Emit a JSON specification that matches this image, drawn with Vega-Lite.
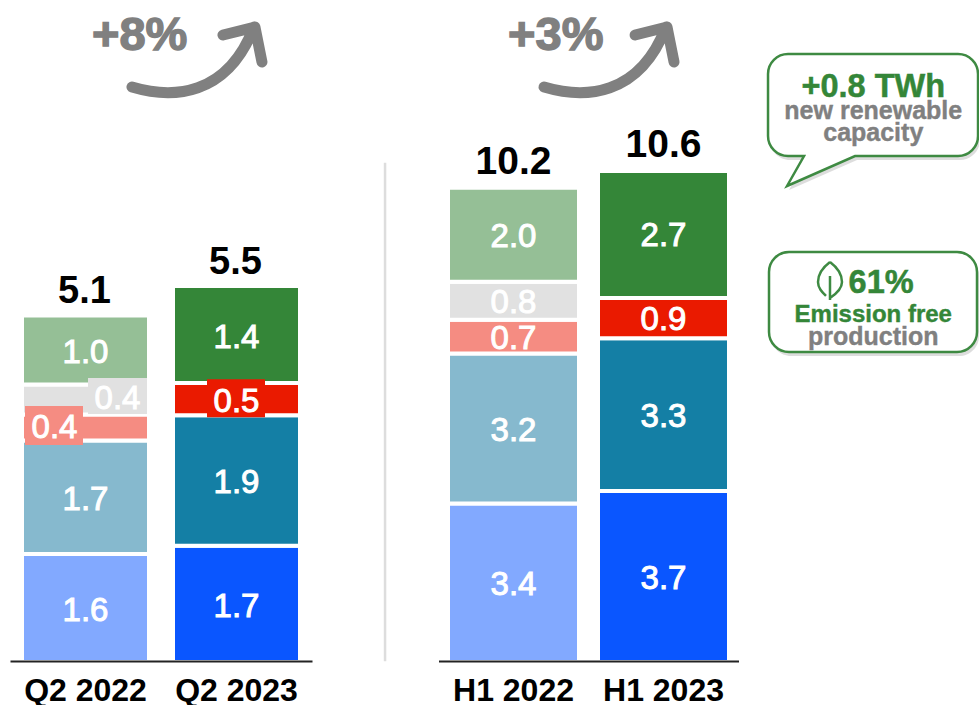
{"$schema":"https://vega.github.io/schema/vega-lite/v6.json","width":979,"height":705,"padding":0,"autosize":{"type":"none"},"background":"white","config":{"view":{"stroke":null},"font":"Liberation Sans"},
"datasets":{"left":[
{"period":"Q2 2022","series":"S1 2022","order":1,"value":1.58},
{"period":"Q2 2022","series":"S2 2022","order":2,"value":1.66},
{"period":"Q2 2022","series":"S3 2022","order":3,"value":0.38},
{"period":"Q2 2022","series":"S4 2022","order":4,"value":0.44},
{"period":"Q2 2022","series":"S5 2022","order":5,"value":1.01},
{"period":"Q2 2023","series":"S1 2023","order":1,"value":1.7},
{"period":"Q2 2023","series":"S2 2023","order":2,"value":1.91},
{"period":"Q2 2023","series":"S3 2023","order":3,"value":0.47},
{"period":"Q2 2023","series":"S5 2023","order":5,"value":1.42}],
"right":[
{"period":"H1 2022","series":"S1 2022","order":1,"value":3.42},
{"period":"H1 2022","series":"S2 2022","order":2,"value":3.24},
{"period":"H1 2022","series":"S3 2022","order":3,"value":0.73},
{"period":"H1 2022","series":"S4 2022","order":4,"value":0.82},
{"period":"H1 2022","series":"S5 2022","order":5,"value":2.03},
{"period":"H1 2023","series":"S1 2023","order":1,"value":3.69},
{"period":"H1 2023","series":"S2 2023","order":2,"value":3.3},
{"period":"H1 2023","series":"S3 2023","order":3,"value":0.87},
{"period":"H1 2023","series":"S5 2023","order":5,"value":2.74}],
"notes":[
{"role":"growth","text":"+8%","u":9.4,"v":7.09},
{"role":"growth","text":"+3%","u":51.9,"v":7.09},
{"role":"headline","text":"+0.8 TWh","u":89.2,"v":13.76},
{"role":"grey","text":"new renewable","u":89.2,"v":16.88},
{"role":"grey","text":"capacity","u":89.2,"v":20.0},
{"role":"headline","text":"61%","u":90.0,"v":41.56},
{"role":"green","text":"Emission free","u":89.2,"v":45.67},
{"role":"grey","text":"production","u":89.2,"v":48.94}],
"arrows":[{"name":"a","u":13.48,"v":12.34},{"name":"b","u":55.57,"v":12.34}],
"divider":[{"u":39.33,"v":23.1,"v2":93.8}],
"bubble":[{"u":78.45,"v":7.66}],
"box":[{"u":78.55,"v":35.74}],
"leaf":[{"u":84.78,"v":37.16}]},
"layer":[
{"encoding":{
 "x":{"field":"period","type":"nominal","sort":["Q2 2022","Q2 2023"],"scale":{"range":[10,312],"paddingInner":0,"paddingOuter":0},"axis":{"orient":"bottom","offset":-44,"title":null,"ticks":false,"grid":false,"domainColor":"#222222","domainWidth":2,"labelAngle":0,"labelFontSize":32,"labelFontWeight":"bold","labelColor":"black","labelPadding":14,"labelFont":"Liberation Sans","zindex":1}},
 "y":{"field":"value","type":"quantitative","stack":"zero","scale":{"domain":[0,5.5],"range":[662,286],"nice":false,"zero":false},"axis":null}},
 "data":{"name":"left"},
 "layer":[
 {"mark":{"type":"bar","width":127,"stroke":"white","strokeWidth":4},"encoding":{"color":{"field":"series","type":"nominal","legend":null,"scale":{"domain":["S1 2022","S2 2022","S3 2022","S4 2022","S5 2022","S1 2023","S2 2023","S3 2023","S5 2023"],"range":["#82A9FF","#86B9CE","#F58C82","#E1E1E1","#95BF96","#0A56FF","#147FA5","#EA1A00","#348638"]}},"order":{"field":"order"}}},
 {"mark":{"type":"point","filled":true,"size":4,"opacity":1},"encoding":{"y":{"field":"value","type":"quantitative","stack":"zero","bandPosition":0.5},"detail":{"field":"series"},"order":{"field":"order"},"color":{"field":"series","type":"nominal","legend":null},"shape":{"field":"series","type":"nominal","legend":null,"scale":{"domain":["S4 2022","S3 2022","S3 2023"],"range":["M2.5,-21.5H61.5V14.5H2.5Z","M-60.5,-21.5H-2.5V17.5H-60.5Z","M-29.5,-20H28.5V18H-29.5Z"]}},"opacity":{"condition":{"test":"datum.series==='S4 2022'||datum.series==='S3 2022'||datum.series==='S3 2023'","value":1},"value":0}}},
 {"mark":{"type":"text","color":"white","fontSize":33,"stroke":"white","strokeWidth":1,"dy":3},"encoding":{"y":{"field":"value","type":"quantitative","stack":"zero","bandPosition":0.5},"detail":{"field":"series"},"order":{"field":"order"},"text":{"field":"value","type":"quantitative","format":".1f"},"opacity":{"condition":{"test":"datum.series==='S4 2022'||datum.series==='S3 2022'","value":0},"value":1}}},
 {"mark":{"type":"text","color":"white","fontSize":33,"stroke":"white","strokeWidth":1,"dx":32,"dy":0},"encoding":{"y":{"field":"value","type":"quantitative","stack":"zero","bandPosition":0.5},"detail":{"field":"series"},"order":{"field":"order"},"text":{"field":"value","type":"quantitative","format":".1f"},"opacity":{"condition":{"test":"datum.series==='S4 2022'","value":1},"value":0}}},
 {"mark":{"type":"text","color":"white","fontSize":33,"stroke":"white","strokeWidth":1,"dx":-31,"dy":0},"encoding":{"y":{"field":"value","type":"quantitative","stack":"zero","bandPosition":0.5},"detail":{"field":"series"},"order":{"field":"order"},"text":{"field":"value","type":"quantitative","format":".1f"},"opacity":{"condition":{"test":"datum.series==='S3 2022'","value":1},"value":0}}},
 {"transform":[{"aggregate":[{"op":"sum","field":"value","as":"total"}],"groupby":["period"]}],"mark":{"type":"text","color":"black","fontSize":38,"fontWeight":"bold","baseline":"alphabetic","dy":-12,"dx":-1},"encoding":{"y":{"field":"total","type":"quantitative","stack":null},"text":{"field":"total","type":"quantitative","format":".1f"}}}
 ]},
{"encoding":{
 "x":{"field":"period","type":"nominal","sort":["H1 2022","H1 2023"],"scale":{"range":[438.5,738.5],"paddingInner":0,"paddingOuter":0},"axis":{"orient":"bottom","offset":-44,"title":null,"ticks":false,"grid":false,"domainColor":"#222222","domainWidth":2,"labelAngle":0,"labelFontSize":32,"labelFontWeight":"bold","labelColor":"black","labelPadding":14,"labelFont":"Liberation Sans","zindex":1}},
 "y":{"field":"value","type":"quantitative","stack":"zero","scale":{"domain":[0,10.6],"range":[662,171],"nice":false,"zero":false},"axis":null}},
 "data":{"name":"right"},
 "layer":[
 {"mark":{"type":"bar","width":131,"stroke":"white","strokeWidth":4},"encoding":{"color":{"field":"series","type":"nominal","legend":null},"order":{"field":"order"}}},
 {"mark":{"type":"text","color":"white","fontSize":33,"stroke":"white","strokeWidth":1,"dy":2},"encoding":{"y":{"field":"value","type":"quantitative","stack":"zero","bandPosition":0.5},"detail":{"field":"series"},"order":{"field":"order"},"text":{"field":"value","type":"quantitative","format":".1f"}}},
 {"transform":[{"aggregate":[{"op":"sum","field":"value","as":"total"}],"groupby":["period"]}],"mark":{"type":"text","color":"black","fontSize":39,"fontWeight":"bold","baseline":"alphabetic","dy":-14},"encoding":{"y":{"field":"total","type":"quantitative","stack":null},"text":{"field":"total","type":"quantitative","format":".1f"}}}
 ]},
{"encoding":{
 "x":{"field":"u","type":"quantitative","scale":{"domain":[0,100],"range":[0,979],"nice":false,"zero":false},"axis":null},
 "y":{"field":"v","type":"quantitative","scale":{"domain":[0,100],"range":[0,705],"nice":false,"zero":false},"axis":null}},
 "layer":[
 {"data":{"name":"divider"},"mark":{"type":"rule","color":"#DDDDDD","strokeWidth":2.5},"encoding":{"y2":{"field":"v2"}}},
 {"data":{"name":"arrows"},"mark":{"type":"point","filled":false,"size":4,"opacity":1,"color":"#808080","strokeWidth":11,"strokeCap":"round","strokeJoin":"round","shape":"M0,0C40,12 95,10 122,-60M91,-52L123,-60L130,-25"},"encoding":{}},
 {"data":{"name":"bubble"},"mark":{"type":"point","filled":true,"size":4,"opacity":0.25,"color":"#777777","xOffset":2,"yOffset":4,"shape":"M20,0H190A20,20 0 0 1 210,20V82A20,20 0 0 1 190,102H87L19,132L36,102H20A20,20 0 0 1 0,82V20A20,20 0 0 1 20,0Z"},"encoding":{}},
 {"data":{"name":"bubble"},"mark":{"type":"point","filled":true,"size":4,"opacity":1,"fill":"white","stroke":"#3E8A42","strokeWidth":2.5,"shape":"M20,0H190A20,20 0 0 1 210,20V82A20,20 0 0 1 190,102H87L19,132L36,102H20A20,20 0 0 1 0,82V20A20,20 0 0 1 20,0Z"},"encoding":{}},
 {"data":{"name":"box"},"mark":{"type":"point","filled":true,"size":4,"opacity":0.25,"color":"#777777","xOffset":2,"yOffset":4,"shape":"M20,0H188A20,20 0 0 1 208,20V80A20,20 0 0 1 188,100H20A20,20 0 0 1 0,80V20A20,20 0 0 1 20,0Z"},"encoding":{}},
 {"data":{"name":"box"},"mark":{"type":"point","filled":true,"size":4,"opacity":1,"fill":"white","stroke":"#3E8A42","strokeWidth":2.5,"shape":"M20,0H188A20,20 0 0 1 208,20V80A20,20 0 0 1 188,100H20A20,20 0 0 1 0,80V20A20,20 0 0 1 20,0Z"},"encoding":{}},
 {"data":{"name":"leaf"},"mark":{"type":"point","filled":false,"size":4,"opacity":1,"color":"#3E8A42","strokeWidth":2.5,"shape":"M0,0C-8,6 -12,12 -12,20C-12,26 -8,30 -4,34M0,0C8,6 12,12 12,20C12,26 6,32 0,36M0,14V38"},"encoding":{}},
 {"data":{"name":"notes"},"transform":[{"filter":"datum.role==='growth'"}],"mark":{"type":"text","align":"left","baseline":"alphabetic","fontSize":47,"fontWeight":"bold","color":"#808080","stroke":"#808080","strokeWidth":1.4},"encoding":{"text":{"field":"text"}}},
 {"data":{"name":"notes"},"transform":[{"filter":"datum.role==='headline'"}],"mark":{"type":"text","align":"center","baseline":"alphabetic","fontSize":32.5,"fontWeight":"bold","color":"#348638","stroke":"#348638","strokeWidth":0.5},"encoding":{"text":{"field":"text"}}},
 {"data":{"name":"notes"},"transform":[{"filter":"datum.role==='green'"}],"mark":{"type":"text","align":"center","baseline":"alphabetic","fontSize":24,"fontWeight":"bold","color":"#348638","stroke":"#348638","strokeWidth":0.4},"encoding":{"text":{"field":"text"}}},
 {"data":{"name":"notes"},"transform":[{"filter":"datum.role==='grey'"}],"mark":{"type":"text","align":"center","baseline":"alphabetic","fontSize":25,"fontWeight":"bold","color":"#808080","stroke":"#808080","strokeWidth":0.4},"encoding":{"text":{"field":"text"}}}
 ]}
],
"resolve":{"scale":{"x":"independent","y":"independent"},"axis":{"x":"independent","y":"independent"}}}
